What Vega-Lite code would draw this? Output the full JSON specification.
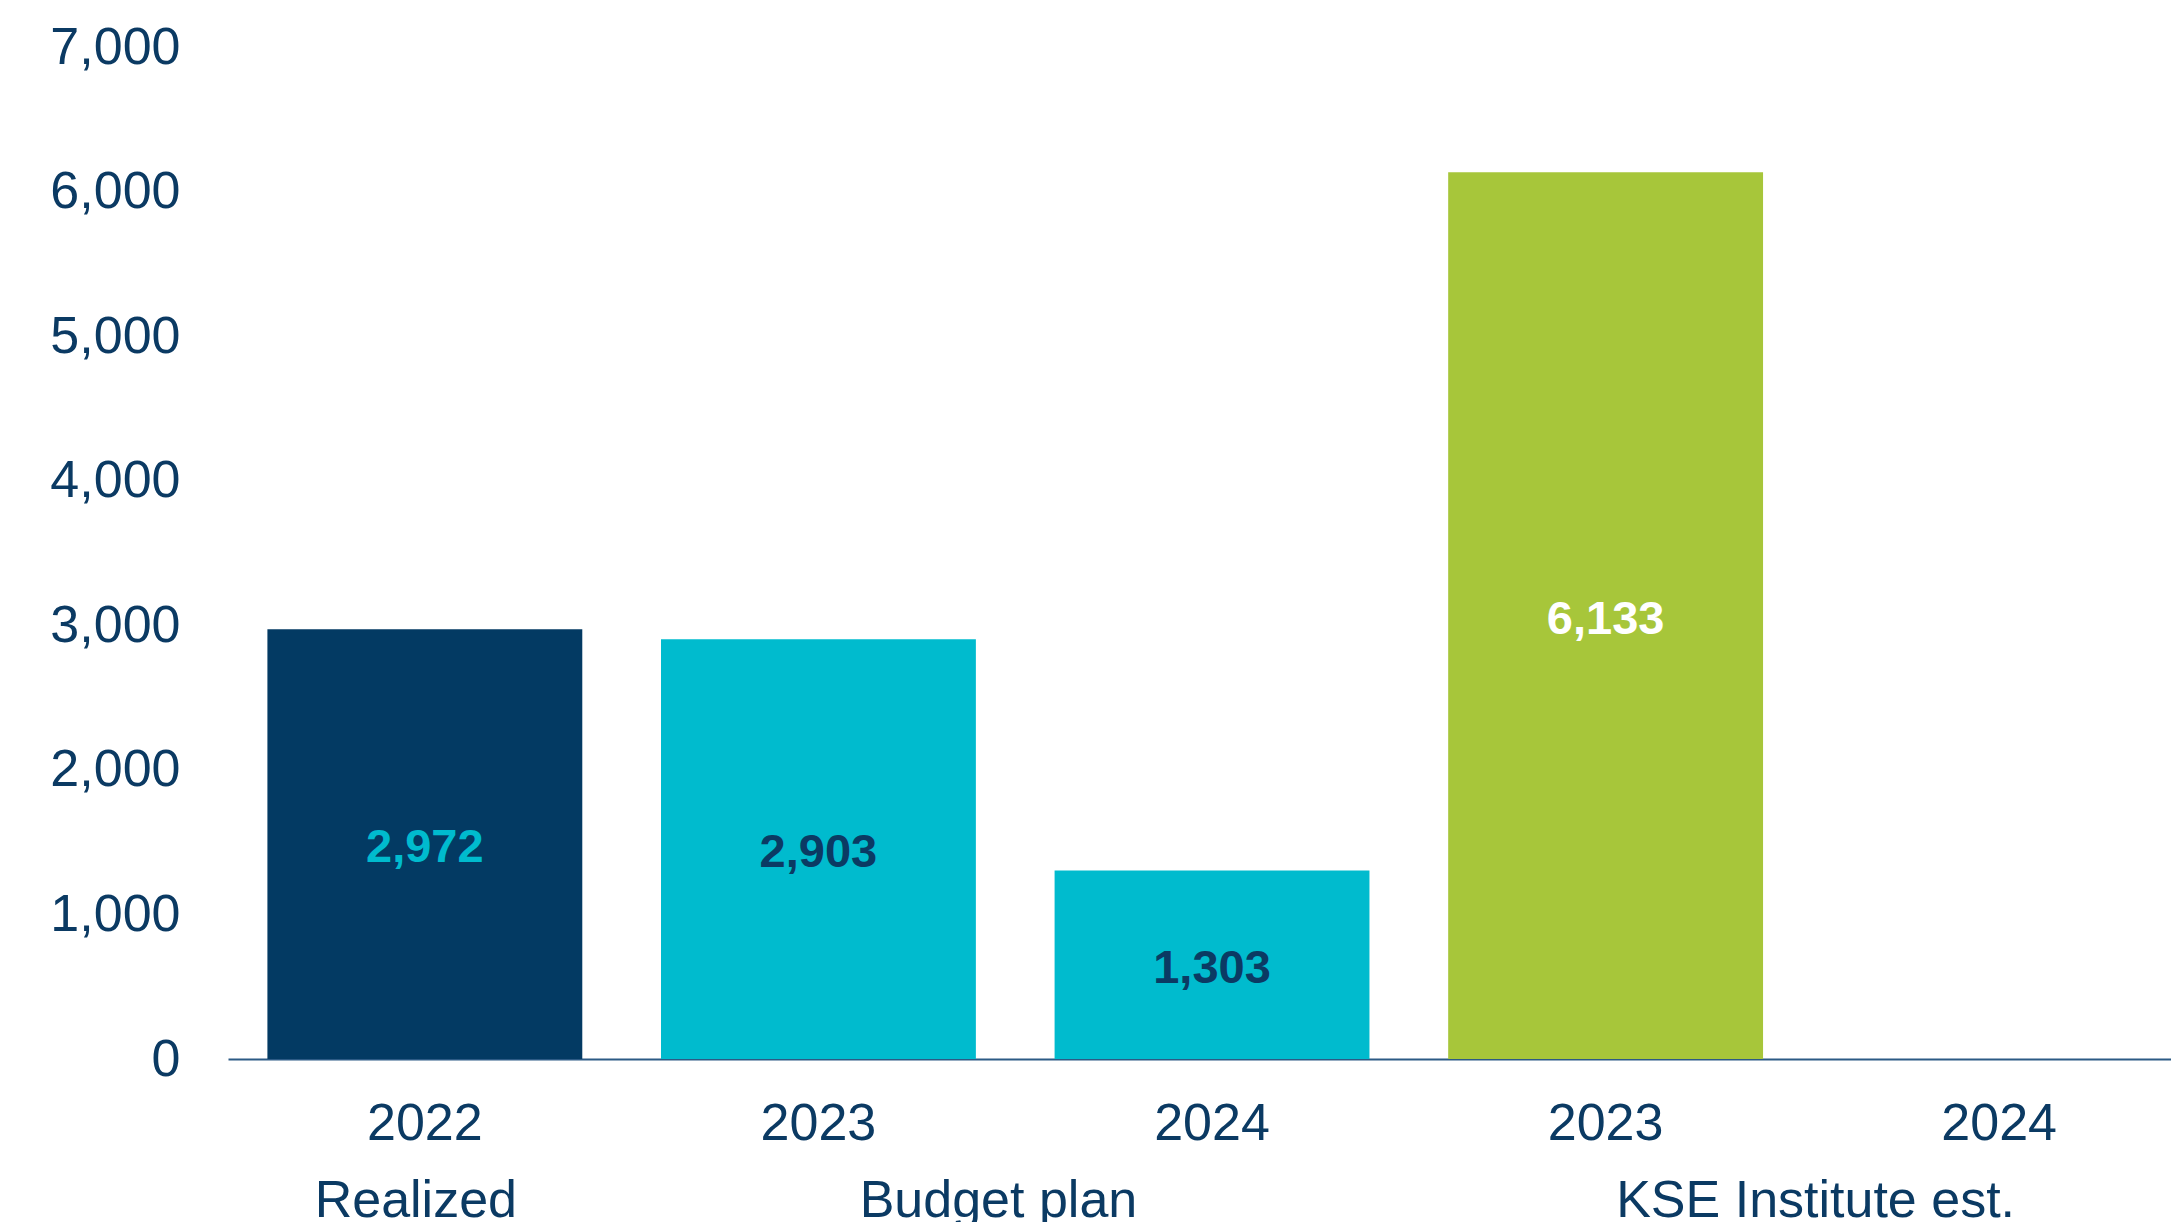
{
  "$schema": "https://vega.github.io/schema/vega-lite/v6.json",
  "width": 1943,
  "height": 1012,
  "autosize": {"type": "none"},
  "padding": {"left": 228, "top": 47, "right": 0, "bottom": 163},
  "background": "white",
  "config": {
    "view": {"stroke": null},
    "font": "Liberation Sans",
    "axis": {"labelFont": "Liberation Sans", "labelFontSize": 52, "labelColor": "#0B3A63", "grid": false, "ticks": false, "tickSize": 0, "title": null}
  },
  "data": {
    "values": [
      {"key": "Realized|2022", "series": "Realized", "value": 2972},
      {"key": "Budget plan|2023", "series": "Budget plan", "value": 2903},
      {"key": "Budget plan|2024", "series": "Budget plan", "value": 1303},
      {"key": "KSE Institute est.|2023", "series": "KSE Institute est.", "value": 6133}
    ]
  },
  "resolve": {"scale": {"color": "independent"}},
  "layer": [
    {
      "mark": {"type": "bar"},
      "encoding": {
        "x": {
          "field": "key", "type": "nominal", "sort": null,
          "scale": {"domain": ["Realized|2022", "Budget plan|2023", "Budget plan|2024", "KSE Institute est.|2023", "KSE Institute est.|2024"], "paddingInner": 0.2, "paddingOuter": 0.0683, "align": 0.733},
          "axis": {"labelAngle": 0, "labelExpr": "split(datum.value, '|')[1]", "domain": true, "domainColor": "#2C5A85", "domainWidth": 2, "labelPadding": 39, "labelBaseline": "top"}
        },
        "y": {
          "field": "value", "type": "quantitative",
          "scale": {"domain": [0, 7000], "nice": false},
          "axis": {"values": [0, 1000, 2000, 3000, 4000, 5000, 6000, 7000], "format": ",d", "domain": false, "labelPadding": 48}
        },
        "color": {
          "field": "series", "type": "nominal",
          "scale": {"domain": ["Realized", "Budget plan", "KSE Institute est."], "range": ["#033A63", "#00BBCE", "#A7C63A"]},
          "legend": null
        }
      }
    },
    {
      "transform": [{"calculate": "datum.value / 2", "as": "mid"}],
      "mark": {"type": "text", "fontWeight": "bold", "fontSize": 47, "baseline": "middle", "align": "center", "dy": 4},
      "encoding": {
        "x": {"field": "key", "type": "nominal", "sort": null},
        "y": {"field": "mid", "type": "quantitative"},
        "text": {"field": "value", "type": "quantitative", "format": ",d"},
        "color": {
          "field": "series", "type": "nominal",
          "scale": {"domain": ["Realized", "Budget plan", "KSE Institute est."], "range": ["#00BBCE", "#0B3A63", "#FFFFFF"]},
          "legend": null
        }
      }
    },
    {
      "data": {"values": [{"key": "Realized|2022", "label": "Realized"}]},
      "mark": {"type": "text", "fontSize": 52, "baseline": "middle", "align": "center", "dx": -9, "dy": 142, "color": "#0B3A63"},
      "encoding": {
        "x": {"field": "key", "type": "nominal", "sort": null},
        "y": {"datum": 0, "type": "quantitative"},
        "text": {"field": "label"}
      }
    },
    {
      "data": {"values": [{"key": "Budget plan|2023", "label": "Budget plan"}]},
      "mark": {"type": "text", "fontSize": 52, "baseline": "middle", "align": "center", "dx": 180, "dy": 142, "color": "#0B3A63"},
      "encoding": {
        "x": {"field": "key", "type": "nominal", "sort": null},
        "y": {"datum": 0, "type": "quantitative"},
        "text": {"field": "label"}
      }
    },
    {
      "data": {"values": [{"key": "KSE Institute est.|2023", "label": "KSE Institute est."}]},
      "mark": {"type": "text", "fontSize": 52, "baseline": "middle", "align": "center", "dx": 210, "dy": 142, "color": "#0B3A63"},
      "encoding": {
        "x": {"field": "key", "type": "nominal", "sort": null},
        "y": {"datum": 0, "type": "quantitative"},
        "text": {"field": "label"}
      }
    }
  ]
}
